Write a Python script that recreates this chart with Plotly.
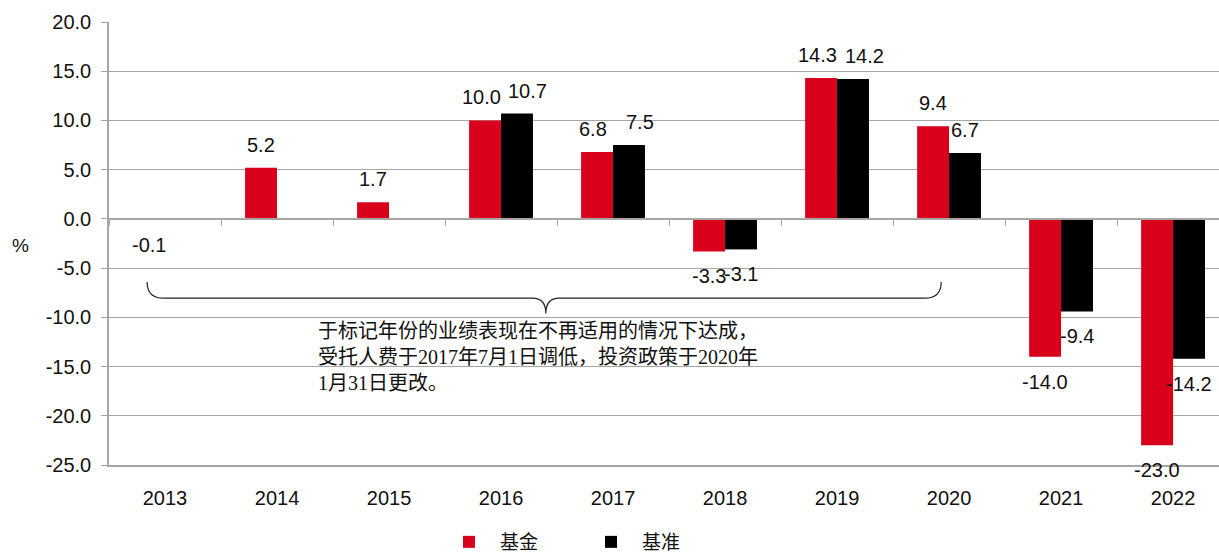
import plotly.graph_objects as go

years = ["2013", "2014", "2015", "2016", "2017", "2018", "2019", "2020", "2021", "2022"]
fund = [-0.1, 5.2, 1.7, 10.0, 6.8, -3.3, 14.3, 9.4, -14.0, -23.0]
bench = [None, None, None, 10.7, 7.5, -3.1, 14.2, 6.7, -9.4, -14.2]
y_ticks = [20, 15, 10, 5, 0, -5, -10, -15, -20, -25]
note = "于标记年份的业绩表现在不再适用的情况下达成，<br>受托人费于2017年7月1日调低，投资政策于2020年<br>1月31日更改。"

RED = "#D9001B"
GRID = "#A6A6A6"
BARGAP = 0.43
XMAX = 9.41
xs = list(range(len(years)))
half = (1 - BARGAP) / 4

fig = go.Figure()
fig.add_trace(go.Bar(x=xs, y=fund, name="基金", marker=dict(color=RED, line=dict(width=0))))
fig.add_trace(go.Bar(x=xs, y=bench, name="基准", marker=dict(color="#000000", line=dict(width=0))))
# helper invisible trace so the zero-level axis (tick marks) is drawn
fig.add_trace(go.Scatter(x=[0], y=[0], xaxis="x2", mode="markers", marker=dict(opacity=0),
                         showlegend=False, hoverinfo="skip"))

annos = []
lblfont = dict(family="Liberation Sans, Arial", size=20, color="#111111")
for i in range(len(years)):
    f, b = fund[i], bench[i]
    # spread positive labels that would collide
    crowded = b is not None and f > 0 and b > 0 and abs(f - b) < 1.0
    for v, off, dx in ((f, -half, -4 if crowded else 0), (b, half, 11 if crowded else 0)):
        if v is None:
            continue
        pos = v >= 0
        annos.append(dict(x=i + off, y=v, xref="x", yref="y", text=f"{v:.1f}", showarrow=False,
                          yanchor="bottom" if pos else "top", yshift=10 if pos else -12,
                          xshift=dx, font=lblfont))

annos.append(dict(x=(316 - 109) / 1110, y=-10.1, xref="paper", yref="y", text=note, showarrow=False,
                  xanchor="left", yanchor="top", align="left",
                  font=dict(family="Liberation Serif, Noto Sans CJK SC", size=20, color="#111111")))
annos.append(dict(x=-0.080, y=-2.7, xref="paper", yref="y", text="%", showarrow=False,
                  xanchor="center", yanchor="middle",
                  font=dict(family="Liberation Sans, Arial", size=19, color="#111111")))

# brace under 2013-2020
x0, x1, xm = -0.16, 6.93, 3.40
yt, yh, yp = -6.4, -8.05, -9.6
brace = (f"M {x0},{yt} Q {x0},{yh} {x0+0.15},{yh} L {xm-0.12},{yh} "
         f"Q {xm},{yh} {xm},{yp} Q {xm},{yh} {xm+0.12},{yh} "
         f"L {x1-0.15},{yh} Q {x1},{yh} {x1},{yt}")

fig.update_layout(
    width=1219, height=552,
    margin=dict(l=109, r=0, t=22, b=87, autoexpand=False),
    plot_bgcolor="white", paper_bgcolor="white",
    barmode="group", bargap=BARGAP, bargroupgap=0,
    font=dict(family="Liberation Sans, Arial", size=20, color="#111111"),
    annotations=annos,
    shapes=[dict(type="path", path=brace, xref="x", yref="y",
                 line=dict(color="#222222", width=1.2))],
    legend=dict(orientation="h", x=(438 - 109) / 1110, xanchor="left", y=1 - 523 / 552,
                yanchor="top", yref="container",
                font=dict(family="Noto Sans CJK SC", size=19, color="#111111"),
                entrywidth=75, entrywidthmode="pixels", itemwidth=52),
    xaxis=dict(range=[-0.5, XMAX], tickvals=xs, ticktext=years, showgrid=False, zeroline=False,
               showline=True, linecolor=GRID, linewidth=1.5, ticks="", ticklabelstandoff=14,
               tickfont=dict(size=20), automargin=False),
    xaxis2=dict(range=[-0.5, XMAX], overlaying="x", anchor="free", position=25 / 45,
                tickvals=[i - 0.5 for i in range(len(years) + 1)], ticks="outside", ticklen=6,
                tickcolor=GRID, showticklabels=False, showgrid=False, zeroline=False,
                showline=True, linecolor=GRID, linewidth=1.5, automargin=False),
    yaxis=dict(range=[-25, 20], tickvals=y_ticks, ticktext=[f"{t:.1f}" for t in y_ticks],
               showgrid=True, gridcolor=GRID, gridwidth=1.2, zeroline=False,
               showline=True, linecolor=GRID, linewidth=1.5, ticks="outside", ticklen=6,
               tickcolor=GRID, tickfont=dict(size=20), ticklabelstandoff=6, automargin=False),
    showlegend=True,
)

fig.write_html("out.html", config={"displayModeBar": False},
               post_script="document.body.style.margin='0';")
